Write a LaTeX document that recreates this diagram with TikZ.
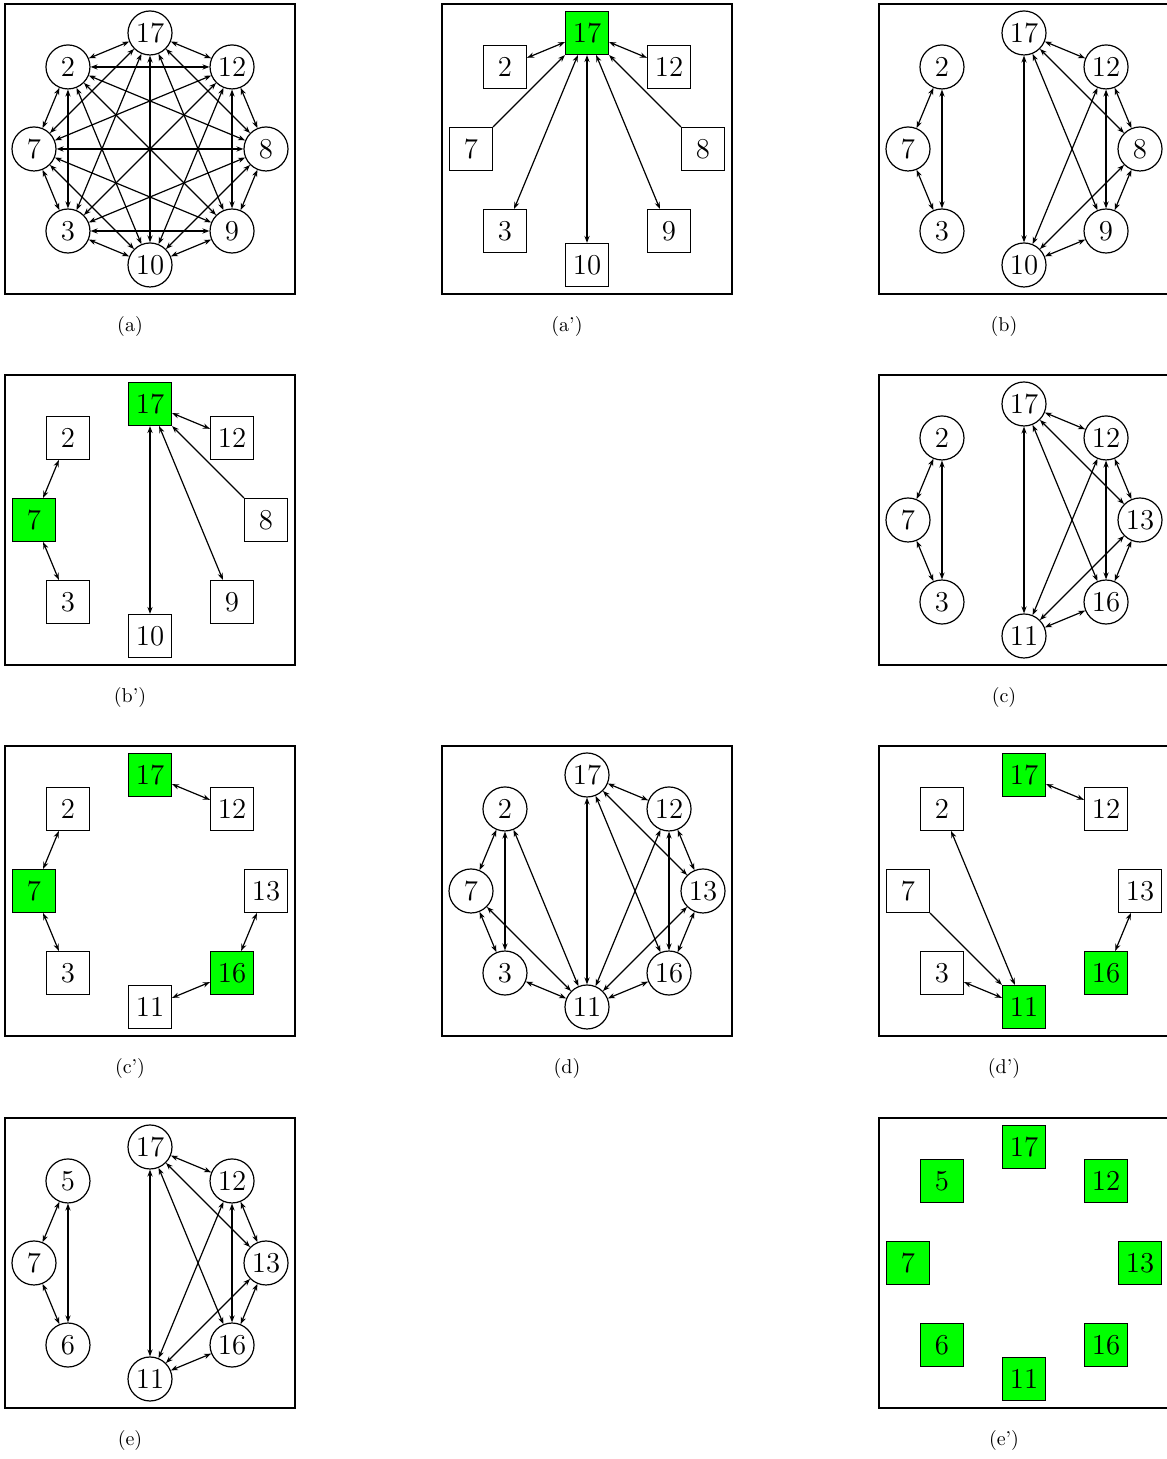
\documentclass[tikz,border=0pt]{standalone}
\usepackage{tikz}
\usetikzlibrary{arrows.meta}

\tikzset{
  vert/.style={circle, draw, line width=0.6pt, minimum size=22pt, inner sep=0pt, font=\Large},
  sqbox/.style={rectangle, draw, line width=0.6pt, minimum size=21.5pt, inner sep=0pt, font=\Large},
  picked/.style={sqbox, fill=green},
  panelframe/.style={line width=0.9pt},
  dlink/.style={<->, line width=0.6pt},
  onearrow/.style={->, line width=0.6pt},
  subcap/.style={font=\normalsize}
}

\begin{document}
\begin{tikzpicture}[x=0.5pt,y=0.5pt,>={Stealth[length=3.5pt,width=2.6pt]}]
\useasboundingbox (0,0) rectangle (1166,1459);
% (a)
\begin{scope}[shift={(150,1310)}]
\draw[panelframe] (-145,-145) rectangle (145,145);
\node[vert] (a17) at (90:116) {17};
\node[vert] (a12) at (45:116) {12};
\node[vert] (a8) at (0:116) {8};
\node[vert] (a9) at (-45:116) {9};
\node[vert] (a10) at (-90:116) {10};
\node[vert] (a3) at (-135:116) {3};
\node[vert] (a7) at (180:116) {7};
\node[vert] (a2) at (135:116) {2};
\foreach \u/\w in {17/12,17/8,17/9,17/10,17/3,17/7,17/2,12/8,12/9,12/10,12/3,12/7,12/2,
  8/9,8/10,8/3,8/7,8/2,9/10,9/3,9/7,9/2,10/3,10/7,10/2,3/7,3/2,7/2}
  \draw[dlink] (a\u) -- (a\w);
\node[subcap] (acap) at (-20,-178) {(a)};
\end{scope}
% (a')
\begin{scope}[shift={(587,1310)}]
\draw[panelframe] (-145,-145) rectangle (145,145);
\node[picked] (ap17) at (90:116) {17};
\node[sqbox] (ap12) at (45:116) {12};
\node[sqbox] (ap8) at (0:116) {8};
\node[sqbox] (ap9) at (-45:116) {9};
\node[sqbox] (ap10) at (-90:116) {10};
\node[sqbox] (ap3) at (-135:116) {3};
\node[sqbox] (ap7) at (180:116) {7};
\node[sqbox] (ap2) at (135:116) {2};
\foreach \w in {2,12,3,10,9}
  \draw[dlink] (ap17) -- (ap\w);
\draw[onearrow] (ap7) -- (ap17);
\draw[onearrow] (ap8) -- (ap17);
\node[subcap] (apcap) at (-20,-178) {(a')};
\end{scope}
% (b)
\begin{scope}[shift={(1024,1310)}]
\draw[panelframe] (-145,-145) rectangle (145,145);
\node[vert] (b17) at (90:116) {17};
\node[vert] (b12) at (45:116) {12};
\node[vert] (b8) at (0:116) {8};
\node[vert] (b9) at (-45:116) {9};
\node[vert] (b10) at (-90:116) {10};
\node[vert] (b3) at (-135:116) {3};
\node[vert] (b7) at (180:116) {7};
\node[vert] (b2) at (135:116) {2};
\foreach \u/\w in {2/7,2/3,7/3,17/12,17/8,17/9,17/10,12/8,12/9,12/10,8/9,8/10,9/10}
  \draw[dlink] (b\u) -- (b\w);
\node[subcap] (bcap) at (-20,-178) {(b)};
\end{scope}
% (b')
\begin{scope}[shift={(150,939)}]
\draw[panelframe] (-145,-145) rectangle (145,145);
\node[picked] (bp17) at (90:116) {17};
\node[sqbox] (bp12) at (45:116) {12};
\node[sqbox] (bp8) at (0:116) {8};
\node[sqbox] (bp9) at (-45:116) {9};
\node[sqbox] (bp10) at (-90:116) {10};
\node[sqbox] (bp3) at (-135:116) {3};
\node[picked] (bp7) at (180:116) {7};
\node[sqbox] (bp2) at (135:116) {2};
\foreach \u/\w in {7/2,7/3,17/12,17/10,17/9}
  \draw[dlink] (bp\u) -- (bp\w);
\draw[onearrow] (bp8) -- (bp17);
\node[subcap] (bpcap) at (-20,-178) {(b')};
\end{scope}
% (c)
\begin{scope}[shift={(1024,939)}]
\draw[panelframe] (-145,-145) rectangle (145,145);
\node[vert] (c17) at (90:116) {17};
\node[vert] (c12) at (45:116) {12};
\node[vert] (c13) at (0:116) {13};
\node[vert] (c16) at (-45:116) {16};
\node[vert] (c11) at (-90:116) {11};
\node[vert] (c3) at (-135:116) {3};
\node[vert] (c7) at (180:116) {7};
\node[vert] (c2) at (135:116) {2};
\foreach \u/\w in {2/7,2/3,7/3,17/12,17/13,17/16,17/11,12/13,12/16,12/11,13/16,13/11,16/11}
  \draw[dlink] (c\u) -- (c\w);
\node[subcap] (ccap) at (-20,-178) {(c)};
\end{scope}
% (c')
\begin{scope}[shift={(150,568)}]
\draw[panelframe] (-145,-145) rectangle (145,145);
\node[picked] (cp17) at (90:116) {17};
\node[sqbox] (cp12) at (45:116) {12};
\node[sqbox] (cp13) at (0:116) {13};
\node[picked] (cp16) at (-45:116) {16};
\node[sqbox] (cp11) at (-90:116) {11};
\node[sqbox] (cp3) at (-135:116) {3};
\node[picked] (cp7) at (180:116) {7};
\node[sqbox] (cp2) at (135:116) {2};
\foreach \u/\w in {17/12,7/2,7/3,16/13,16/11}
  \draw[dlink] (cp\u) -- (cp\w);
\node[subcap] (cpcap) at (-20,-178) {(c')};
\end{scope}
% (d)
\begin{scope}[shift={(587,568)}]
\draw[panelframe] (-145,-145) rectangle (145,145);
\node[vert] (d17) at (90:116) {17};
\node[vert] (d12) at (45:116) {12};
\node[vert] (d13) at (0:116) {13};
\node[vert] (d16) at (-45:116) {16};
\node[vert] (d11) at (-90:116) {11};
\node[vert] (d3) at (-135:116) {3};
\node[vert] (d7) at (180:116) {7};
\node[vert] (d2) at (135:116) {2};
\foreach \u/\w in {2/7,2/3,7/3,2/11,7/11,3/11,17/12,17/13,17/16,17/11,12/13,12/16,12/11,13/16,13/11,16/11}
  \draw[dlink] (d\u) -- (d\w);
\node[subcap] (dcap) at (-20,-178) {(d)};
\end{scope}
% (d')
\begin{scope}[shift={(1024,568)}]
\draw[panelframe] (-145,-145) rectangle (145,145);
\node[picked] (dp17) at (90:116) {17};
\node[sqbox] (dp12) at (45:116) {12};
\node[sqbox] (dp13) at (0:116) {13};
\node[picked] (dp16) at (-45:116) {16};
\node[picked] (dp11) at (-90:116) {11};
\node[sqbox] (dp3) at (-135:116) {3};
\node[sqbox] (dp7) at (180:116) {7};
\node[sqbox] (dp2) at (135:116) {2};
\foreach \u/\w in {17/12,11/2,11/3,16/13}
  \draw[dlink] (dp\u) -- (dp\w);
\draw[onearrow] (dp7) -- (dp11);
\node[subcap] (dpcap) at (-20,-178) {(d')};
\end{scope}
% (e)
\begin{scope}[shift={(150,196)}]
\draw[panelframe] (-145,-145) rectangle (145,145);
\node[vert] (e17) at (90:116) {17};
\node[vert] (e12) at (45:116) {12};
\node[vert] (e13) at (0:116) {13};
\node[vert] (e16) at (-45:116) {16};
\node[vert] (e11) at (-90:116) {11};
\node[vert] (e6) at (-135:116) {6};
\node[vert] (e7) at (180:116) {7};
\node[vert] (e5) at (135:116) {5};
\foreach \u/\w in {5/7,5/6,7/6,17/12,17/13,17/16,17/11,12/13,12/16,12/11,13/16,13/11,16/11}
  \draw[dlink] (e\u) -- (e\w);
\node[subcap] (ecap) at (-20,-178) {(e)};
\end{scope}
% (e')
\begin{scope}[shift={(1024,196)}]
\draw[panelframe] (-145,-145) rectangle (145,145);
\node[picked] (ep17) at (90:116) {17};
\node[picked] (ep12) at (45:116) {12};
\node[picked] (ep13) at (0:116) {13};
\node[picked] (ep16) at (-45:116) {16};
\node[picked] (ep11) at (-90:116) {11};
\node[picked] (ep6) at (-135:116) {6};
\node[picked] (ep7) at (180:116) {7};
\node[picked] (ep5) at (135:116) {5};
\node[subcap] (epcap) at (-20,-178) {(e')};
\end{scope}
\end{tikzpicture}
\end{document}
